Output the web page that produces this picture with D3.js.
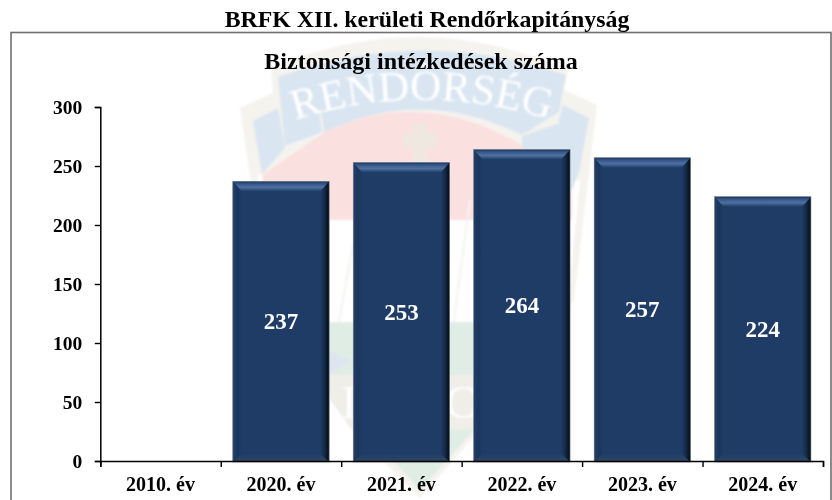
<!DOCTYPE html>
<html><head><meta charset="utf-8">
<script src="https://cdn.jsdelivr.net/npm/d3@7/dist/d3.min.js"></script>
<style>html,body{margin:0;padding:0;background:#fff}svg{display:block;filter:blur(.35px)}text{font-family:"Liberation Serif",serif;font-weight:bold;fill:#000}</style>
</head><body><svg id="c" width="832" height="500"></svg>
<script>
const categories=["2010. év","2020. év","2021. év","2022. év","2023. év","2024. év"];
const values=[null,237,253,264,257,224];
const yTicks=[0,50,100,150,200,250,300];
const titleText="BRFK XII. kerületi Rendőrkapitányság";
const subtitleText="Biztonsági intézkedések száma";
const watermarkText="RENDŐRSÉG";

const svg=d3.select("#c");
const x=d3.scaleBand().domain(categories).range([100.3,823]).paddingInner(0.2).paddingOuter(0.1);
const y=d3.scaleLinear().domain([0,300]).range([461,107]);
const xEdges=d3.scaleLinear().domain([0,categories.length]).range([100.3,823]);

// gradients
const defs=svg.append("defs");
function grad(id,x2,y2,stops){const g=defs.append("linearGradient").attr("id",id).attr("x1",0).attr("y1",0).attr("x2",x2).attr("y2",y2);
  stops.forEach(s=>g.append("stop").attr("offset",s[0]).attr("stop-color",s[1]));}
grad("bTop",0,1,[[0,"#1a3558"],[0.25,"#34568a"],[0.6,"#4f719f"],[1,"#1f3e69"]]);
grad("bLeft",1,0,[[0,"#223f6a"],[0.5,"#1b365c"],[1,"#1e3c66"]]);
grad("bRight",1,0,[[0,"#1e3c66"],[0.45,"#152c4a"],[1,"#040a12"]]);
grad("bBottom",0,1,[[0,"#1e3c66"],[0.6,"#2a4463"],[1,"#33475d"]]);
defs.append("filter").attr("id","soft").append("feGaussianBlur").attr("stdDeviation",0.9);

// watermark
const wm=svg.append("g").attr("filter","url(#soft)");
const cream="#f5f3ee",blue="#d9e5f1",pink="#fbe0e0",green="#dfede5";
wm.append("path").attr("fill",cream).attr("d","M240,108L273,93L271,68Q420,5 568,70L564,90L597,105L574,300L480,430L420,498L352,430L268,300Z");
wm.append("path").attr("fill","#fff").attr("d","M258,175L270,322H566L580,180Z");
wm.append("path").attr("fill",pink).attr("d","M262,175L323,133Q420,85 522,145L572,175L572,220H268Z");
wm.append("path").attr("fill",blue).attr("d","M253,121L278,108L285,148L262,174Z");
wm.append("path").attr("fill",blue).attr("d","M563,105L589,118L579,172L572,190L522,148L522,133L558,122Z");
wm.append("path").attr("fill",blue).attr("d","M278,77Q420,25 566,75L559,112L522,135Q420,85 323,133L285,147Z");
wm.append("path").attr("fill","none").attr("stroke",cream).attr("stroke-width",2).attr("d","M285,147L323,133L320,110M522,135L559,122");
wm.append("path").attr("fill","none").attr("stroke",cream).attr("stroke-width",2).attr("d","M338,327L353,245M453,327L470,200");
wm.append("path").attr("fill","#eee8e0").attr("d","M413,125H427V133H436V147H427V185H413V147H404V133H413Z");
wm.append("path").attr("fill",green).attr("d","M285,322H556L530,375H312Z");
wm.append("path").attr("fill","#dde6f0").attr("d","M328,350L352,361L328,375Z");
wm.append("path").attr("fill","#efeee8").attr("d","M312,375H530L480,430H352Z");
wm.append("path").attr("fill",green).attr("d","M366,430H474L420,490Z");
wm.append("path").attr("id","arc").attr("fill","none").attr("d","M295,120Q420,80 552,120");
wm.append("text").attr("font-size",43).style("font-weight","normal").style("fill","#fff")
  .append("textPath").attr("href","#arc").text(watermarkText);
wm.append("text").attr("x",349).attr("y",418).attr("text-anchor","middle").attr("font-size",47).style("font-weight","normal").style("fill","#fff").text("I");
wm.append("text").attr("x",461).attr("y",418).attr("text-anchor","middle").attr("font-size",47).style("font-weight","normal").style("fill","#fff").text("C");

// frame
svg.append("rect").attr("x",11).attr("y",32.5).attr("width",820).attr("height",520).attr("fill","none").attr("stroke","#707070").attr("stroke-width",1.6);

// titles
svg.append("text").attr("x",427).attr("y",27).attr("text-anchor","middle").attr("font-size",23.8).text(titleText);
svg.append("text").attr("x",421).attr("y",69).attr("text-anchor","middle").attr("font-size",24).text(subtitleText);

// bars
const bevel=9,bevelTop=10,bevelBottom=8;
const bars=svg.append("g").selectAll("g").data(categories.map((c,i)=>({c,v:values[i]})).filter(d=>d.v!=null)).join("g");
const pts=a=>a.map(p=>p.join(",")).join(" ");
bars.each(function(d){
  const g=d3.select(this),l=x(d.c),r=l+x.bandwidth(),t=y(d.v),b=y(0)+1;
  g.append("rect").attr("x",l).attr("y",t).attr("width",r-l).attr("height",b-t).attr("fill","#1e3c66");
  g.append("polygon").attr("points",pts([[l,t],[l+bevel,t+bevelTop],[l+bevel,b-bevelBottom],[l,b]])).attr("fill","url(#bLeft)");
  g.append("polygon").attr("points",pts([[r,t],[r-bevel,t+bevelTop],[r-bevel,b-bevelBottom],[r,b]])).attr("fill","url(#bRight)");
  g.append("polygon").attr("points",pts([[l,b],[l+bevel,b-bevelBottom],[r-bevel,b-bevelBottom],[r,b]])).attr("fill","url(#bBottom)");
  g.append("polygon").attr("points",pts([[l,t],[r,t],[r-bevel,t+bevelTop],[l+bevel,t+bevelTop]])).attr("fill","url(#bTop)");
  g.append("rect").attr("x",l).attr("y",t).attr("width",r-l).attr("height",b-t).attr("fill","none").attr("stroke","#8a8f96").attr("stroke-width",0.6);
});
bars.append("text").attr("x",d=>x(d.c)+x.bandwidth()/2).attr("y",d=>(y(d.v)+y(0))/2+8).attr("text-anchor","middle")
  .attr("font-size",23).style("fill","#fff").text(d=>d.v);

// axes
const yAxis=d3.axisLeft(y).tickValues(yTicks).tickSize(5.5).tickPadding(12.5);
const ya=svg.append("g").attr("transform","translate(100.3,0)").call(yAxis);
const xAxis=d3.axisBottom(xEdges).tickValues(d3.range(categories.length+1)).tickSize(6).tickFormat("");
const xa=svg.append("g").attr("transform","translate(0,461)").call(xAxis);
[ya,xa].forEach(a=>{a.selectAll("path").attr("stroke","#000").attr("stroke-width",1.5);a.selectAll("line").attr("stroke","#000").attr("stroke-width",1.4);});
ya.selectAll("text").attr("font-size",19.5).style("font-family",'"Liberation Serif",serif').style("font-weight","bold").attr("fill","#000");
const xl=d3.axisBottom(x).tickSize(0).tickPadding(16);
const xlg=svg.append("g").attr("transform","translate(0,461)").call(xl);
xlg.select("path").remove();
xlg.selectAll("text").attr("font-size",20).style("font-family",'"Liberation Serif",serif').style("font-weight","bold").attr("fill","#000");
</script></body></html>
